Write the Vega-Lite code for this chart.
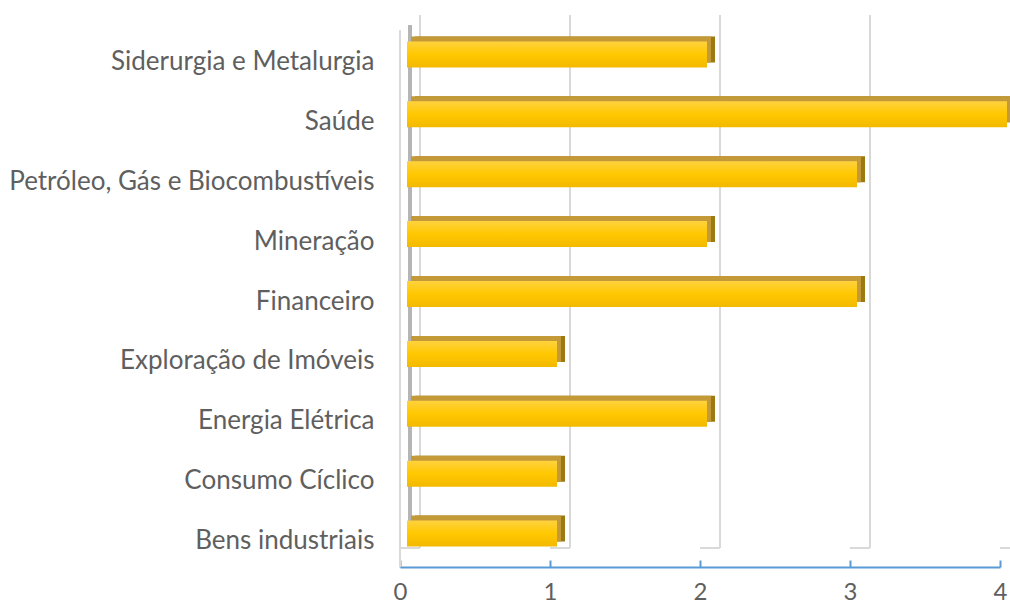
{
  "$schema": "https://vega.github.io/schema/vega-lite/v6.json",
  "width": 600,
  "height": 533,
  "autosize": {"type": "none"},
  "padding": {"left": 400, "top": 15, "right": 10, "bottom": 59},
  "background": "#ffffff",
  "config": {"view": {"stroke": null}, "font": "Lato"},
  "datasets": {
    "setores": [
      {"setor": "Siderurgia e Metalurgia", "n": 2},
      {"setor": "Saúde", "n": 4},
      {"setor": "Petróleo, Gás e Biocombustíveis", "n": 3},
      {"setor": "Mineração", "n": 2},
      {"setor": "Financeiro", "n": 3},
      {"setor": "Exploração de Imóveis", "n": 1},
      {"setor": "Energia Elétrica", "n": 2},
      {"setor": "Consumo Cíclico", "n": 1},
      {"setor": "Bens industriais", "n": 1}
    ],
    "grade": [{"t": 0}, {"t": 1}, {"t": 2}, {"t": 3}, {"t": 4}]
  },
  "layer": [
    {
      "data": {"name": "grade"},
      "mark": {"type": "rule", "color": "#D9D9D9", "strokeWidth": 2, "xOffset": 20},
      "encoding": {
        "x": {"field": "t", "type": "quantitative", "scale": {"domain": [0, 4]},
          "axis": {"values": [0, 1, 2, 3, 4], "format": "d", "offset": 19, "grid": false, "domainColor": "#5B9BD5", "domainWidth": 2, "tickColor": "#5B9BD5", "tickWidth": 2, "tickSize": -7, "labelPadding": 20, "labelFontSize": 24, "labelColor": "#5F5F5F", "labelFont": "Lato", "title": null, "labelFlush": false}}
      }
    },
    {
      "data": {"name": "grade"},
      "mark": {"type": "rule", "color": "#D9D9D9", "strokeWidth": 2, "xOffset": 20, "x2Offset": 0, "y": {"expr": "height"}, "y2": {"expr": "height + 19"}},
      "encoding": {
        "x": {"field": "t", "type": "quantitative"},
        "x2": {"field": "t"}
      }
    },
    {
      "data": {"name": "grade"},
      "transform": [{"filter": "datum.t == 0"}],
      "mark": {"type": "rule", "color": "#D9D9D9", "strokeWidth": 2, "y": 15, "y2": {"expr": "height + 19"}},
      "encoding": {
        "x": {"field": "t", "type": "quantitative"}
      }
    },
    {
      "data": {"name": "grade"},
      "transform": [{"filter": "datum.t == 0"}],
      "mark": {"type": "rule", "color": "#5A5A5A", "opacity": 0.45, "strokeWidth": 4, "xOffset": 10, "y": 10, "y2": {"expr": "height - 3"}},
      "encoding": {
        "x": {"field": "t", "type": "quantitative"}
      }
    },
    {
      "data": {"name": "setores"},
      "mark": {"type": "bar", "color": "#9C7A12", "size": 26, "yOffset": -12.5, "xOffset": 15, "x2Offset": 15},
      "encoding": {
        "y": {"field": "setor", "type": "nominal", "sort": null,
          "scale": {"range": [17, 556], "paddingInner": 0, "paddingOuter": 0},
          "axis": {"domain": false, "ticks": false, "grid": false, "labelPadding": 26, "labelFontSize": 26, "labelColor": "#5F5F5F", "labelFont": "Lato", "title": null, "labelLimit": 400}},
        "x": {"field": "n", "type": "quantitative"},
        "x2": {"datum": 0}
      }
    },
    {
      "data": {"name": "setores"},
      "mark": {"type": "bar", "color": "#C49A38", "size": 26, "yOffset": -12.5, "xOffset": 11, "x2Offset": 11},
      "encoding": {
        "y": {"field": "setor", "type": "nominal", "sort": null},
        "x": {"field": "n", "type": "quantitative"},
        "x2": {"datum": 0}
      }
    },
    {
      "data": {"name": "setores"},
      "mark": {"type": "bar", "size": 26, "yOffset": -7.5, "xOffset": 7, "x2Offset": 7,
        "color": {"gradient": "linear", "x1": 0, "y1": 0, "x2": 0, "y2": 1,
          "stops": [{"offset": 0, "color": "#FFD23F"}, {"offset": 0.5, "color": "#FFC800"}, {"offset": 1, "color": "#F2B900"}]}},
      "encoding": {
        "y": {"field": "setor", "type": "nominal", "sort": null},
        "x": {"field": "n", "type": "quantitative"},
        "x2": {"datum": 0}
      }
    }
  ]
}
